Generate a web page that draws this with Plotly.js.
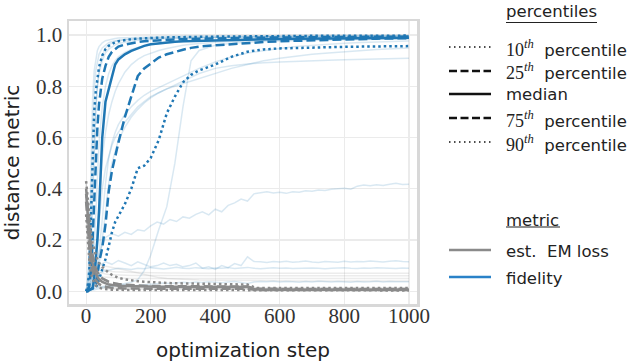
<!DOCTYPE html>
<html>
<head>
<meta charset="utf-8">
<script src="https://cdn.plot.ly/plotly-3.0.1.min.js"></script>
<style>
  html, body { margin: 0; padding: 0; background: #fff; }
  #chart { width: 640px; height: 362px; }
</style>
</head>
<body>
<div id="chart"></div>
<script>
// optimization steps the curves were read at
const steps = [0, 5, 10, 15, 20, 25, 30, 35, 40, 50, 60, 70, 80, 90, 100, 120, 140, 160, 180, 200,
  225, 250, 275, 300, 325, 350, 400, 450, 500, 525, 550, 600, 650, 700, 750, 800, 850, 900, 950, 1000];
// finer grid for the noisy runs
const noisySteps = [0, 20, 40, 60, 80, 100, 120, 140, 160, 180, 200, 220, 240, 260, 280, 300, 320, 340, 360, 380,
  400, 420, 440, 460, 480, 500, 520, 540, 560, 580, 600, 620, 640, 660, 680, 700, 720, 740, 760, 780,
  800, 820, 840, 860, 880, 900, 920, 940, 960, 980, 1000];

// fidelity percentiles
const fid10 = [0, 0, 0.005, 0.008, 0.01, 0.012, 0.016, 0.025, 0.045, 0.085, 0.125, 0.175, 0.23, 0.27, 0.295, 0.34, 0.40, 0.48, 0.49, 0.52,
  0.59, 0.695, 0.76, 0.815, 0.845, 0.862, 0.885, 0.915, 0.935, 0.94, 0.944, 0.948, 0.95, 0.952, 0.953, 0.954, 0.955, 0.956, 0.957, 0.957];
const fid25 = [0, 0, 0.005, 0.008, 0.012, 0.016, 0.03, 0.06, 0.11, 0.17, 0.26, 0.39, 0.47, 0.53, 0.58, 0.68, 0.76, 0.84, 0.87, 0.89,
  0.912, 0.925, 0.935, 0.943, 0.95, 0.955, 0.96, 0.965, 0.97, 0.972, 0.973, 0.976, 0.978, 0.98, 0.982, 0.984, 0.985, 0.986, 0.987, 0.988];
const fidMed = [0, 0.003, 0.005, 0.008, 0.01, 0.05, 0.12, 0.2, 0.31, 0.6, 0.74, 0.79, 0.84, 0.885, 0.905, 0.925, 0.938, 0.948, 0.958, 0.964,
  0.968, 0.971, 0.974, 0.976, 0.977, 0.978, 0.98, 0.982, 0.983, 0.984, 0.984, 0.985, 0.986, 0.987, 0.987, 0.988, 0.988, 0.989, 0.989, 0.99];
const fid75 = [0, 0.005, 0.02, 0.08, 0.2, 0.35, 0.5, 0.64, 0.73, 0.83, 0.88, 0.915, 0.935, 0.947, 0.955, 0.963, 0.969, 0.973, 0.976, 0.978,
  0.98, 0.982, 0.983, 0.984, 0.985, 0.986, 0.987, 0.988, 0.989, 0.99, 0.99, 0.991, 0.991, 0.992, 0.992, 0.993, 0.993, 0.994, 0.994, 0.994];
const fid90 = [0, 0.02, 0.08, 0.3, 0.55, 0.7, 0.78, 0.84, 0.875, 0.92, 0.945, 0.958, 0.966, 0.972, 0.976, 0.981, 0.984, 0.986, 0.988, 0.989,
  0.99, 0.991, 0.992, 0.992, 0.993, 0.993, 0.994, 0.995, 0.995, 0.995, 0.996, 0.996, 0.996, 0.997, 0.997, 0.997, 0.998, 0.998, 0.998, 0.998];

// est. EM loss percentiles
const em10 = [0.3, 0.2, 0.12, 0.07, 0.045, 0.03, 0.022, 0.017, 0.014, 0.01, 0.008, 0.007, 0.006, 0.006, 0.005, 0.005, 0.005, 0.005, 0.005, 0.005,
  0.005, 0.005, 0.005, 0.005, 0.005, 0.005, 0.005, 0.005, 0.005, 0.003, 0.003, 0.003, 0.003, 0.003, 0.003, 0.003, 0.003, 0.003, 0.003, 0.003];
const em25 = [0.35, 0.25, 0.17, 0.11, 0.075, 0.055, 0.042, 0.034, 0.028, 0.021, 0.017, 0.015, 0.013, 0.012, 0.012, 0.011, 0.011, 0.01, 0.01, 0.01,
  0.01, 0.01, 0.01, 0.01, 0.01, 0.01, 0.01, 0.01, 0.01, 0.005, 0.005, 0.005, 0.005, 0.005, 0.005, 0.005, 0.005, 0.005, 0.005, 0.005];
const emMed = [0.38, 0.29, 0.21, 0.15, 0.11, 0.085, 0.068, 0.056, 0.047, 0.036, 0.03, 0.026, 0.024, 0.022, 0.021, 0.02, 0.019, 0.018, 0.018, 0.017,
  0.017, 0.017, 0.016, 0.016, 0.016, 0.016, 0.016, 0.016, 0.016, 0.007, 0.006, 0.006, 0.006, 0.006, 0.006, 0.006, 0.006, 0.006, 0.006, 0.006];
const em75 = [0.4, 0.32, 0.24, 0.18, 0.14, 0.11, 0.09, 0.075, 0.064, 0.05, 0.042, 0.037, 0.033, 0.03, 0.028, 0.025, 0.023, 0.022, 0.021, 0.02,
  0.02, 0.019, 0.019, 0.019, 0.018, 0.018, 0.018, 0.018, 0.018, 0.01, 0.009, 0.009, 0.009, 0.009, 0.009, 0.009, 0.009, 0.009, 0.009, 0.009];
const em90 = [0.43, 0.36, 0.29, 0.23, 0.19, 0.16, 0.14, 0.125, 0.11, 0.095, 0.082, 0.072, 0.064, 0.057, 0.052, 0.046, 0.042, 0.039, 0.037, 0.035,
  0.033, 0.032, 0.031, 0.03, 0.029, 0.029, 0.028, 0.027, 0.026, 0.013, 0.012, 0.012, 0.012, 0.012, 0.012, 0.012, 0.012, 0.012, 0.012, 0.012];

// individual fidelity runs (faint)
const runFid = [
  [0, 0.05, 0.2, 0.5, 0.75, 0.86, 0.91, 0.94, 0.955, 0.97, 0.978, 0.982, 0.985, 0.987, 0.989, 0.99, 0.991, 0.992, 0.993, 0.993,
   0.994, 0.994, 0.995, 0.995, 0.995, 0.996, 0.996, 0.996, 0.997, 0.997, 0.997, 0.997, 0.998, 0.998, 0.998, 0.998, 0.998, 0.999, 0.999, 0.999],
  [0, 0.01, 0.05, 0.15, 0.35, 0.55, 0.7, 0.8, 0.86, 0.92, 0.95, 0.962, 0.97, 0.975, 0.978, 0.982, 0.984, 0.986, 0.987, 0.988,
   0.989, 0.99, 0.99, 0.991, 0.991, 0.992, 0.992, 0.993, 0.993, 0.993, 0.994, 0.994, 0.994, 0.995, 0.995, 0.995, 0.995, 0.996, 0.996, 0.996],
  [0, 0, 0.01, 0.02, 0.04, 0.08, 0.15, 0.25, 0.36, 0.52, 0.62, 0.69, 0.74, 0.78, 0.81, 0.855, 0.885, 0.905, 0.92, 0.93,
   0.94, 0.948, 0.955, 0.96, 0.964, 0.967, 0.972, 0.975, 0.978, 0.979, 0.98, 0.982, 0.983, 0.984, 0.985, 0.986, 0.987, 0.987, 0.988, 0.988],
  [0, 0, 0.005, 0.01, 0.03, 0.07, 0.13, 0.2, 0.28, 0.4, 0.48, 0.53, 0.57, 0.6, 0.62, 0.66, 0.69, 0.72, 0.74, 0.76,
   0.775, 0.79, 0.8, 0.81, 0.82, 0.83, 0.85, 0.87, 0.885, 0.892, 0.9, 0.91, 0.918, 0.925, 0.93, 0.935, 0.94, 0.944, 0.947, 0.95],
  [0, 0, 0.003, 0.006, 0.01, 0.02, 0.04, 0.08, 0.14, 0.28, 0.42, 0.52, 0.58, 0.62, 0.65, 0.69, 0.72, 0.745, 0.765, 0.78,
   0.795, 0.81, 0.825, 0.84, 0.855, 0.87, 0.895, 0.915, 0.93, 0.935, 0.94, 0.948, 0.955, 0.96, 0.965, 0.968, 0.971, 0.973, 0.975, 0.977],
  [0, 0, 0.003, 0.006, 0.01, 0.02, 0.035, 0.06, 0.1, 0.2, 0.32, 0.42, 0.5, 0.55, 0.59, 0.64, 0.68, 0.71, 0.735, 0.755,
   0.775, 0.79, 0.805, 0.82, 0.835, 0.85, 0.87, 0.88, 0.887, 0.89, 0.892, 0.895, 0.898, 0.9, 0.902, 0.904, 0.906, 0.907, 0.909, 0.91],
  [0, 0, 0.002, 0.003, 0.004, 0.005, 0.006, 0.008, 0.01, 0.012, 0.015, 0.018, 0.02, 0.022, 0.025, 0.03, 0.035, 0.045, 0.08, 0.14,
   0.24, 0.33, 0.5, 0.72, 0.9, 0.94, 0.96, 0.968, 0.972, 0.974, 0.975, 0.977, 0.979, 0.98, 0.981, 0.982, 0.983, 0.984, 0.985, 0.985],
  [0, 0.02, 0.08, 0.2, 0.4, 0.6, 0.72, 0.8, 0.85, 0.9, 0.93, 0.945, 0.955, 0.962, 0.967, 0.973, 0.977, 0.98, 0.982, 0.984,
   0.985, 0.986, 0.987, 0.988, 0.988, 0.989, 0.99, 0.99, 0.991, 0.991, 0.991, 0.992, 0.992, 0.992, 0.993, 0.993, 0.993, 0.993, 0.994, 0.994],
  [0, 0.03, 0.12, 0.35, 0.62, 0.78, 0.86, 0.9, 0.925, 0.95, 0.962, 0.97, 0.975, 0.978, 0.98, 0.983, 0.985, 0.987, 0.988, 0.989,
   0.99, 0.99, 0.991, 0.991, 0.992, 0.992, 0.992, 0.993, 0.993, 0.993, 0.993, 0.994, 0.994, 0.994, 0.994, 0.995, 0.995, 0.995, 0.995, 0.995],
  [0, 0.005, 0.02, 0.05, 0.1, 0.18, 0.3, 0.45, 0.58, 0.72, 0.8, 0.85, 0.88, 0.9, 0.915, 0.932, 0.944, 0.952, 0.958, 0.962,
   0.966, 0.97, 0.972, 0.974, 0.976, 0.977, 0.979, 0.981, 0.982, 0.983, 0.983, 0.984, 0.985, 0.986, 0.986, 0.987, 0.987, 0.988, 0.988, 0.989]
];

// noisy fidelity runs that never converge (faint)
const noisyFid = [
  [0, 0.05, 0.15, 0.21, 0.225, 0.215, 0.23, 0.222, 0.24, 0.235, 0.255, 0.27, 0.262, 0.28, 0.272, 0.29, 0.285, 0.3, 0.31, 0.298,
   0.32, 0.31, 0.335, 0.345, 0.36, 0.352, 0.38, 0.385, 0.388, 0.383, 0.386, 0.382, 0.388, 0.386, 0.392, 0.39, 0.395, 0.393, 0.398, 0.4,
   0.402, 0.398, 0.41, 0.415, 0.412, 0.416, 0.413, 0.418, 0.421, 0.417, 0.418],
  [0, 0.06, 0.1, 0.115, 0.105, 0.12, 0.11, 0.1, 0.115, 0.105, 0.095, 0.1, 0.11, 0.1, 0.105, 0.095, 0.1, 0.11, 0.09, 0.095,
   0.085, 0.1, 0.092, 0.108, 0.1, 0.134, 0.116, 0.115, 0.112, 0.116, 0.114, 0.117, 0.113, 0.115, 0.118, 0.114, 0.112, 0.116, 0.115, 0.113,
   0.117, 0.114, 0.116, 0.115, 0.118, 0.116, 0.114, 0.117, 0.119, 0.116, 0.115],
  [0, 0.04, 0.07, 0.08, 0.085, 0.09, 0.088, 0.085, 0.09, 0.088, 0.092, 0.09, 0.087, 0.09, 0.093, 0.09, 0.089, 0.092, 0.09, 0.088,
   0.091, 0.09, 0.092, 0.089, 0.091, 0.093, 0.09, 0.088, 0.09, 0.092, 0.09, 0.091, 0.089, 0.09, 0.092, 0.091, 0.09, 0.088, 0.09, 0.091,
   0.092, 0.09, 0.089, 0.091, 0.09, 0.092, 0.091, 0.09, 0.089, 0.091, 0.09],
  [0, 0.01, 0.015, 0.02, 0.02, 0.022, 0.025, 0.02, 0.022, 0.025, 0.028, 0.03, 0.032, 0.03, 0.033, 0.035, 0.033, 0.036, 0.034, 0.037,
   0.035, 0.033, 0.036, 0.038, 0.034, 0.03, 0.036, 0.038, 0.037, 0.039, 0.036, 0.038, 0.037, 0.035, 0.038, 0.036, 0.039, 0.037, 0.036, 0.038,
   0.037, 0.035, 0.038, 0.036, 0.037, 0.039, 0.036, 0.038, 0.037, 0.036, 0.037]
];

// individual EM loss runs (faint)
const runEm = [
  [0.42, 0.33, 0.25, 0.19, 0.15, 0.125, 0.11, 0.1, 0.093, 0.086, 0.082, 0.079, 0.077, 0.076, 0.075, 0.074, 0.073, 0.073, 0.072, 0.072,
   0.071, 0.071, 0.071, 0.07, 0.07, 0.07, 0.07, 0.07, 0.07, 0.07, 0.07, 0.07, 0.07, 0.07, 0.07, 0.07, 0.07, 0.07, 0.07, 0.07],
  [0.4, 0.3, 0.22, 0.16, 0.12, 0.1, 0.088, 0.08, 0.075, 0.07, 0.067, 0.065, 0.064, 0.063, 0.062, 0.062, 0.061, 0.061, 0.061, 0.06,
   0.06, 0.06, 0.06, 0.06, 0.06, 0.06, 0.06, 0.06, 0.06, 0.06, 0.06, 0.06, 0.06, 0.06, 0.06, 0.06, 0.06, 0.06, 0.06, 0.06],
  [0.37, 0.27, 0.19, 0.13, 0.095, 0.075, 0.065, 0.06, 0.057, 0.055, 0.054, 0.053, 0.052, 0.052, 0.051, 0.051, 0.05, 0.05, 0.05, 0.05,
   0.05, 0.05, 0.05, 0.05, 0.05, 0.05, 0.05, 0.05, 0.05, 0.05, 0.05, 0.05, 0.05, 0.05, 0.05, 0.05, 0.05, 0.05, 0.05, 0.05],
  [0.43, 0.35, 0.27, 0.2, 0.15, 0.11, 0.085, 0.068, 0.055, 0.042, 0.035, 0.03, 0.027, 0.025, 0.024, 0.022, 0.021, 0.021, 0.02, 0.02,
   0.02, 0.02, 0.02, 0.02, 0.02, 0.02, 0.02, 0.02, 0.02, 0.01, 0.01, 0.01, 0.01, 0.01, 0.01, 0.01, 0.01, 0.01, 0.01, 0.01],
  [0.34, 0.24, 0.16, 0.1, 0.065, 0.045, 0.033, 0.026, 0.021, 0.017, 0.015, 0.014, 0.013, 0.013, 0.012, 0.012, 0.012, 0.012, 0.012, 0.012,
   0.012, 0.012, 0.012, 0.012, 0.012, 0.012, 0.012, 0.012, 0.012, 0.012, 0.012, 0.012, 0.012, 0.012, 0.012, 0.012, 0.012, 0.012, 0.012, 0.012],
  [0.3, 0.2, 0.12, 0.075, 0.05, 0.035, 0.025, 0.019, 0.015, 0.012, 0.01, 0.009, 0.009, 0.008, 0.008, 0.008, 0.008, 0.008, 0.008, 0.008,
   0.008, 0.008, 0.008, 0.008, 0.008, 0.008, 0.008, 0.008, 0.008, 0.008, 0.008, 0.008, 0.008, 0.008, 0.008, 0.008, 0.008, 0.008, 0.008, 0.008],
  [0.38, 0.3, 0.23, 0.18, 0.15, 0.13, 0.12, 0.11, 0.105, 0.1, 0.097, 0.095, 0.093, 0.09, 0.088, 0.083, 0.077, 0.07, 0.064, 0.058,
   0.053, 0.05, 0.048, 0.046, 0.045, 0.044, 0.043, 0.042, 0.042, 0.041, 0.04, 0.04, 0.04, 0.04, 0.04, 0.04, 0.04, 0.04, 0.04, 0.04]
];

const xTicks = [0, 200, 400, 600, 800, 1000];
const yTicks = [0, 0.2, 0.4, 0.6, 0.8, 1.0];
const yTickText = ['0.0', '0.2', '0.4', '0.6', '0.8', '1.0'];

const percentileNames = ['10<sup><i>th</i></sup>', '25<sup><i>th</i></sup>', 'median', '75<sup><i>th</i></sup>', '90<sup><i>th</i></sup>'];
const metricNames = ['est.\u00a0 EM loss', 'fidelity'];

// colours
const BLUE = '#1f77b4';
const GRAY = '#8a8a8a';
const FAINT_BLUE = 'rgba(31,119,180,0.17)';
const FAINT_GRAY = 'rgba(127,127,127,0.15)';
const DOT = '2.5px,3px';
const DASH = '9px,4px';
const pctDash = [DOT, DASH, 'solid', DASH, DOT];

const SANS = 'DejaVu Sans';
const SERIF = 'Liberation Serif';

function line(x, y, color, width, dash) {
  return { x: x, y: y, type: 'scatter', mode: 'lines', hoverinfo: 'skip',
    line: { color: color, width: width, dash: dash || 'solid' } };
}

const traces = [];
runEm.forEach(r => traces.push(line(steps, r, FAINT_GRAY, 1.5)));
runFid.forEach(r => traces.push(line(steps, r, FAINT_BLUE, 1.5)));
noisyFid.forEach(r => traces.push(line(noisySteps, r, FAINT_BLUE, 1.5)));
[fid10, fid25, fidMed, fid75, fid90].forEach((r, i) => traces.push(line(steps, r, BLUE, 2.5, pctDash[i])));
[em10, em25, emMed, em75, em90].forEach((r, i) => traces.push(line(steps, r, GRAY, 2.5, pctDash[i])));

// legend, drawn by hand to the right of the axes
const plotL = 69, plotR = 417, plotT = 21, plotB = 304;
const px = x => (x - plotL) / (plotR - plotL);
const py = y => (plotB - y) / (plotB - plotT);

const annotations = [];
const shapes = [];
function legText(text, x, y) {
  annotations.push({ text: text, x: px(x), y: py(y), xref: 'paper', yref: 'paper',
    xanchor: 'left', yanchor: 'middle', showarrow: false,
    font: { family: SANS, size: 16.5, color: '#222' } });
}
function legLine(y, color, width, dash) {
  shapes.push({ type: 'line', xref: 'paper', yref: 'paper', x0: px(449), x1: px(491), y0: py(y), y1: py(y),
    line: { color: color, width: width, dash: dash } });
}

legText('percentiles', 504, 12);
shapes.push({ type: 'line', xref: 'paper', yref: 'paper', x0: px(506), x1: px(597), y0: py(22.5), y1: py(22.5),
  line: { color: '#222', width: 1.2 } });
const rowY = [47, 71, 94, 118, 142];
const legDash = ['1.5px,3.5px', '8px,3.5px', 'solid', '8px,3.5px', '1.5px,3.5px'];
const legWidth = [1.5, 2.5, 2.5, 2.5, 1.5];
percentileNames.forEach((name, i) => {
  let label = name === 'median' ? 'median'
    : '<span style="font-family:Liberation Serif;font-size:18px">' + name + '</span>\u00a0 percentile';
  legText(label, 504, rowY[i] + 1);
  legLine(rowY[i], '#111', legWidth[i], legDash[i]);
});

legText('metric', 504, 220);
shapes.push({ type: 'line', xref: 'paper', yref: 'paper', x0: px(506), x1: px(560), y0: py(227), y1: py(227),
  line: { color: '#222', width: 1.2 } });
legText(metricNames[0], 504, 251);
legLine(250, GRAY, 2.5, 'solid');
legText(metricNames[1], 504, 278);
legLine(277, '#2a82c8', 2.5, 'solid');

const axisCommon = {
  showgrid: true, gridcolor: '#ebebeb', gridwidth: 1.2,
  zeroline: false, showline: true, mirror: true, linecolor: '#d8d8d8', linewidth: 2.5,
  ticks: '', ticklen: 0, tickfont: { family: SERIF, size: 21, color: '#333' }
};

const layout = {
  width: 640, height: 362,
  margin: { l: plotL, r: 640 - plotR, t: plotT, b: 362 - plotB },
  paper_bgcolor: '#fff', plot_bgcolor: '#fff',
  showlegend: false,
  xaxis: Object.assign({}, axisCommon, {
    range: [-53, 1025], tickvals: xTicks, ticklabelstandoff: -9,
    title: { text: 'optimization step', font: { family: SANS, size: 20, color: '#222' }, standoff: 17 }
  }),
  yaxis: Object.assign({}, axisCommon, {
    range: [-0.05, 1.055], tickvals: yTicks, ticktext: yTickText, ticklabelstandoff: 0,
    title: { text: 'distance metric', font: { family: SANS, size: 20, color: '#222' }, standoff: 16 }
  }),
  annotations: annotations,
  shapes: shapes
};

Plotly.newPlot('chart', traces, layout, { displayModeBar: false, staticPlot: true });
</script>
</body>
</html>
